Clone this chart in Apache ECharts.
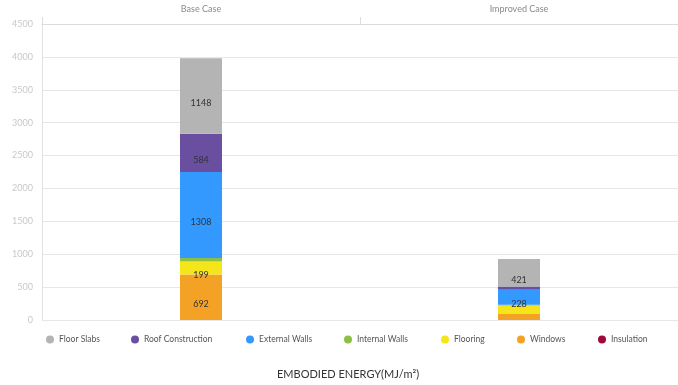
<!DOCTYPE html>
<html>
<head>
<meta charset="utf-8">
<script src="https://cdn.jsdelivr.net/npm/echarts@6/dist/echarts.min.js"></script>
<style>
  html, body { margin: 0; padding: 0; background: #fff; }
  #chart { width: 678px; height: 385px; }
</style>
</head>
<body>
<div id="chart"></div>
<script>
// Embodied energy per component, MJ/m²
const cases = ['Base Case', 'Improved Case'];
const components = ['Floor Slabs', 'Roof Construction', 'External Walls', 'Internal Walls', 'Flooring', 'Windows', 'Insulation'];
const floorSlabs = [1148, 421];
const roofConstruction = [584, 50];
const externalWalls = [1308, 228];
const internalWalls = [50, 10];
const flooring = [199, 130];
const windows = [692, 90];
const insulation = [0, 0];
const yTicks = [0, 500, 1000, 1500, 2000, 2500, 3000, 3500, 4000, 4500];

const colors = {
  'Floor Slabs': '#b4b4b4',
  'Roof Construction': '#6a4fa0',
  'External Walls': '#3399ff',
  'Internal Walls': '#8cbf46',
  'Flooring': '#f5e51b',
  'Windows': '#f4a226',
  'Insulation': '#9e0a3c'
};

// stacked bottom-up
const stackOrder = [
  ['Windows', windows],
  ['Flooring', flooring],
  ['Internal Walls', internalWalls],
  ['External Walls', externalWalls],
  ['Roof Construction', roofConstruction],
  ['Floor Slabs', floorSlabs],
  ['Insulation', insulation]
];

const FONT = 'Lato';

const series = stackOrder.map(([name, values]) => ({
  name: name,
  type: 'bar',
  stack: 'total',
  barWidth: 42,
  data: values,
  itemStyle: { color: colors[name] },
  label: {
    show: true,
    position: 'inside',
    offset: [0, 7],
    color: '#333',
    fontFamily: FONT,
    fontSize: 9,
    formatter: p => (p.value >= 150 ? String(p.value) : '')
  }
}));

// one legend per entry so each sits at its own spot
const legendX = [46, 131, 246, 344, 441, 517, 598];
const legends = components.map((name, i) => ({
  data: [name],
  left: legendX[i],
  top: 335,
  padding: 0,
  icon: 'circle',
  itemWidth: 8,
  itemHeight: 8,
  itemGap: 0,
  textStyle: { color: '#555', fontFamily: FONT, fontSize: 8.5 },
  selectedMode: false
}));

const chart = echarts.init(document.getElementById('chart'));
chart.setOption({
  backgroundColor: '#fff',
  animation: false,
  grid: { left: 42, right: 0, top: 24, bottom: 65 },
  legend: legends,
  title: {
    text: 'EMBODIED ENERGY(MJ/m²)',
    left: 277,
    top: 369,
    textStyle: { color: '#333', fontFamily: FONT, fontSize: 11, fontWeight: 'normal' },
    padding: 0
  },
  xAxis: {
    type: 'category',
    position: 'top',
    data: cases,
    axisLine: { show: true, onZero: false, lineStyle: { color: '#dcdcdc' } },
    axisTick: { show: true, length: 7, lineStyle: { color: '#dcdcdc' } },
    axisLabel: { color: '#8a8a8a', fontFamily: FONT, fontSize: 9, margin: 10 }
  },
  yAxis: {
    type: 'value',
    min: yTicks[0],
    max: yTicks[yTicks.length - 1],
    interval: yTicks[1] - yTicks[0],
    axisLine: { show: true, lineStyle: { color: '#e2e2e2' } },
    axisTick: { show: false },
    splitLine: { lineStyle: { color: '#e6e6e6' } },
    axisLabel: { color: '#c8c8c8', fontFamily: FONT, fontSize: 9, margin: 9, formatter: v => String(v) }
  },
  series: series
});
</script>
</body>
</html>
